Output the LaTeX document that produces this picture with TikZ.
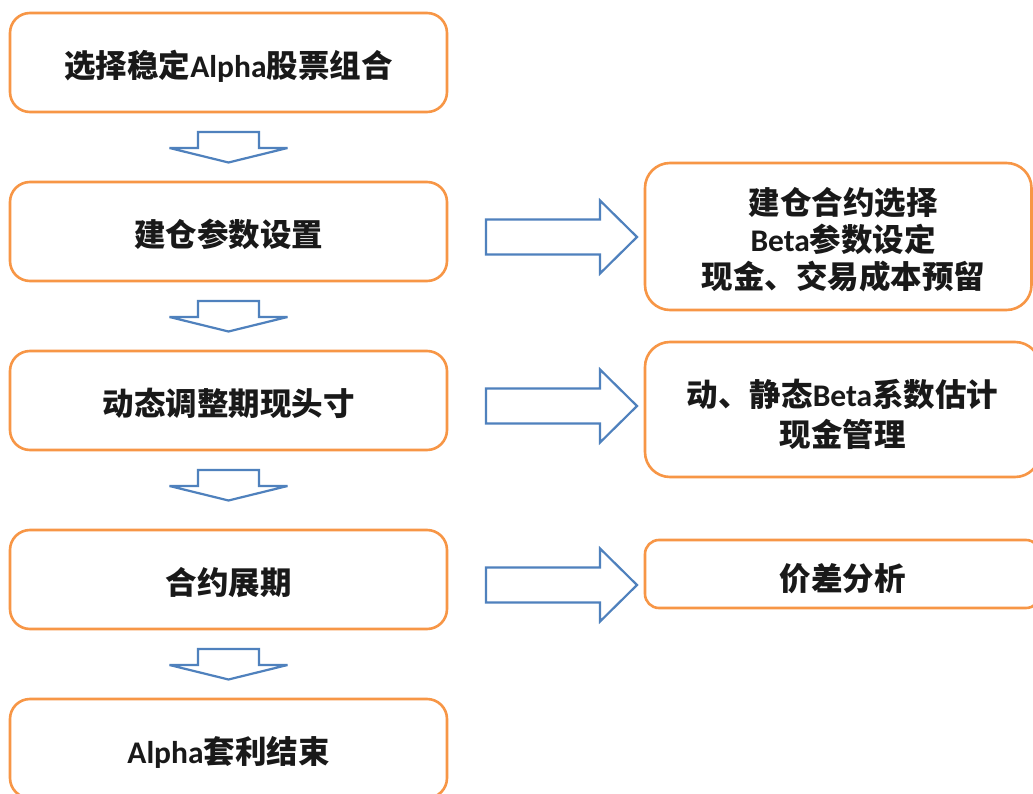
\documentclass[tikz,border=0pt]{standalone}
\usepackage{fontspec}
\setmainfont{Noto Sans CJK SC}
\newfontfamily\latfont{Carlito}
\usetikzlibrary{calc}
\definecolor{boxorange}{RGB}{247,150,70}
\definecolor{arrblue}{RGB}{79,129,189}
\definecolor{txtcol}{RGB}{25,25,25}
\newcommand\lw[1]{{\latfont #1}}
\newcommand\sh{\hspace*{10pt}}
\begin{document}
\begin{tikzpicture}[x=1pt,y=-1pt,
  box/.style={draw=boxorange,line width=2.6pt,rounded corners=20pt,fill=white,text=txtcol,
    font=\fontsize{31.5}{37}\selectfont\bfseries,align=center,inner sep=0pt,text depth=0pt},
  lbox/.style={box,minimum width=437pt,minimum height=99pt,text height=30pt},
  arrowline/.style={draw=arrblue,line width=2.2pt,fill=white,line join=miter,miter limit=3},
  downarr/.pic={\path[arrowline] (-30.5,0) -- (30.5,0) -- (30.5,16) -- (59,16) -- (0,30.5) -- (-59,16) -- (-30.5,16) -- cycle;},
  rightarr/.pic={\path[arrowline] (0,-17.5) -- (114,-17.5) -- (114,-36.5) -- (151,0) -- (114,36.5) -- (114,17.5) -- (0,17.5) -- cycle;}
]
\useasboundingbox[fill=white] (0,0) rectangle (1033,794);

\node[lbox] (b1) at (228.5,62.5) {选择稳定\lw{Alpha}股票组合};
\node[lbox] (b2) at (228.5,231.5) {建仓参数设置};
\node[lbox] (b3) at (228.5,400.5) {动态调整期现头寸};
\node[lbox] (b4) at (228.5,579.5) {合约展期};
\node[lbox] (b5) at (228.5,748.5) {\lw{Alpha}套利结束};

\node[box,minimum width=386.5pt,minimum height=147pt,rounded corners=25pt,text height=105pt] (r1) at (838.25,236.5)
  {\sh 建仓合约选择\\\sh\lw{Beta}参数设定\\\sh 现金、交易成本预留};
\node[box,minimum width=395pt,minimum height=135pt,rounded corners=25pt,text height=73pt,
  font=\fontsize{31.5}{40}\selectfont\bfseries] (r2) at (842.5,409.5)
  {动、静态\lw{Beta}系数估计\\现金管理};
\node[box,minimum width=395pt,minimum height=68pt,rounded corners=14pt,text height=32pt] (r3) at (842.5,574)
  {价差分析};

\pic at ($(b1.south)+(0,18.7)$) {downarr};
\pic at ($(b2.south)+(0,18.7)$) {downarr};
\pic at ($(b3.south)+(0,18.7)$) {downarr};
\pic at ($(b4.south)+(0,18.7)$) {downarr};

\pic at ($(b2.east)+(37.7,5.5)$) {rightarr};
\pic at ($(b3.east)+(37.7,5.5)$) {rightarr};
\pic at ($(b4.east)+(37.7,5.5)$) {rightarr};
\end{tikzpicture}
\end{document}
